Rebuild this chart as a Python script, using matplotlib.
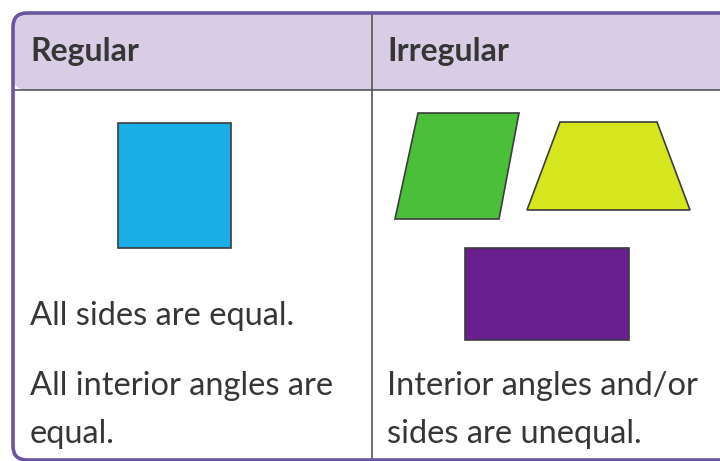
import matplotlib.pyplot as plt
from matplotlib.patches import Polygon, FancyBboxPatch

# table contents
headers = ['Regular', 'Irregular']
regular_lines = ['All sides are equal.', 'All interior angles are', 'equal.']
regular_line_y = [316, 386, 434]
irregular_lines = ['Interior angles and/or', 'sides are unequal.']
irregular_line_y = [386, 434]

# shapes (outline vertices in pixel space)
square = [(118, 123), (231, 123), (231, 248), (118, 248)]
parallelogram = [(418, 113), (519, 113), (499, 219), (395, 219)]
trapezoid = [(560, 122), (657, 122), (690, 210), (527, 210)]
rectangle = [(465, 248), (629, 248), (629, 340), (465, 340)]
shape_colors = ['#1aaee6', '#4bbf3a', '#d6e61e', '#6a1f8e']

fig = plt.figure(figsize=(7.2, 4.61), dpi=100)
ax = fig.add_axes([0, 0, 1, 1])
ax.set_xlim(0, 720); ax.set_ylim(461, 0)
ax.axis('off')

# header band + frame
ax.add_patch(FancyBboxPatch((13, 13), 760, 470, boxstyle='round,pad=0,rounding_size=14',
                            facecolor='white', edgecolor='none', zorder=0))
ax.add_patch(FancyBboxPatch((13, 13), 760, 77, boxstyle='round,pad=0,rounding_size=14',
                            facecolor='#d9cde6', edgecolor='none', zorder=1))
ax.add_patch(FancyBboxPatch((13, 13), 760, 447, boxstyle='round,pad=0,rounding_size=14',
                            facecolor='none', edgecolor='#6a55a2', linewidth=2.6, zorder=5))
ax.plot([13, 720], [90, 90], color='#555555', linewidth=1.2, zorder=4)
ax.plot([372, 372], [13, 461], color='#555555', linewidth=1.2, zorder=4)

font = dict(family=['Lato', 'DejaVu Sans'], color='#363636')
ax.text(30, 52, headers[0], fontsize=23, fontweight='bold', va='center', ha='left', **font)
ax.text(387, 52, headers[1], fontsize=23, fontweight='bold', va='center', ha='left', **font)

for txt, y in zip(regular_lines, regular_line_y):
    ax.text(30, y, txt, fontsize=23.5, va='center', ha='left', **font)
for txt, y in zip(irregular_lines, irregular_line_y):
    ax.text(387, y, txt, fontsize=23.5, va='center', ha='left', **font)

for pts, col in zip([square, parallelogram, trapezoid, rectangle], shape_colors):
    ax.add_patch(Polygon(pts, closed=True, facecolor=col, edgecolor='#3c3c3c',
                         linewidth=1.2, zorder=3))

fig.savefig('out.png', dpi=100)
